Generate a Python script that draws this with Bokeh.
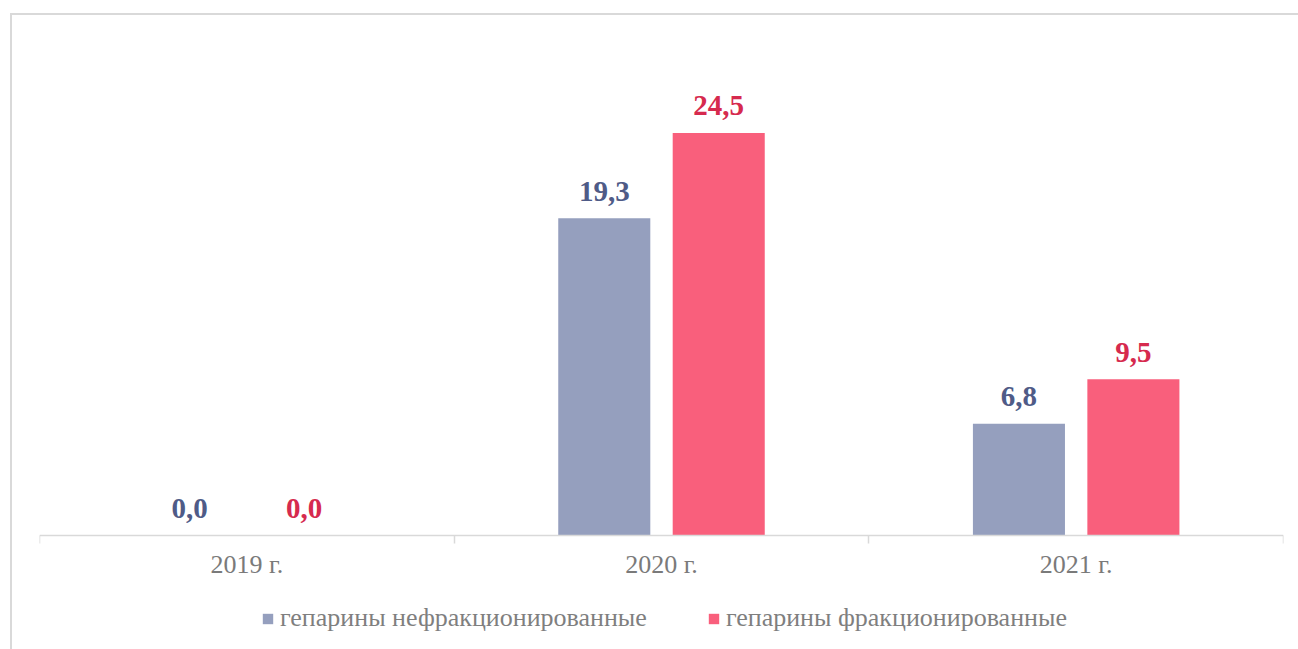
from bokeh.plotting import figure
from bokeh.models import FixedTicker, ColumnDataSource, Legend, LegendItem, LinearAxis
from bokeh.embed import file_html
from bokeh.resources import INLINE
from bokeh.core.properties import value

categories = ["2019 г.", "2020 г.", "2021 г."]
series_names = ["гепарины нефракционированные", "гепарины фракционированные"]
unfractionated = [0.0, 19.3, 6.8]
fractionated = [0.0, 24.5, 9.5]

bar_colors = ["#959fbe", "#f95f7c"]
label_colors = ["#4f5b87", "#d62a4e"]
offsets = [-0.138, 0.138]
bar_w = 0.222

p = figure(frame_width=1244, frame_height=607, x_range=(0, 3), y_range=(-6.94, 30),
           output_backend="svg", toolbar_location=None,
           x_axis_location=None, y_axis_location=None,
           min_border_left=27, min_border_right=15, min_border_top=27,
           min_border_bottom=0)
p.styles = {"margin-left": "10px", "margin-top": "13px",
            "border-left": "2px solid #d9d9d9", "border-top": "2px solid #d9d9d9"}
p.outline_line_color = None
p.grid.visible = False

centers = [i + 0.5 for i in range(len(categories))]
items = []
for k, vals in enumerate([unfractionated, fractionated]):
    xs = [c + offsets[k] for c in centers]
    src = ColumnDataSource(dict(x=xs, top=vals,
                                lab=[f"{v:.1f}".replace(".", ",") for v in vals]))
    r = p.vbar(x="x", top="top", bottom=0, width=bar_w, source=src,
               fill_color=bar_colors[k], line_color=None)
    p.text(x="x", y="top", text="lab", source=src, text_align="center",
           text_baseline="alphabetic", y_offset=-27,
           text_font=value("Liberation Serif"), text_font_style="bold",
           text_font_size="29px", text_color=label_colors[k])
    items.append(LegendItem(label=series_names[k], renderers=[r]))

ax = LinearAxis(fixed_location=0)
ax.ticker = FixedTicker(ticks=centers, minor_ticks=[0, 1, 2, 3])
ax.major_label_overrides = {c: lab for c, lab in zip(centers, categories)}
ax.major_tick_line_color = None
ax.minor_tick_line_color = "#d9d9d9"
ax.minor_tick_line_width = 1.5
ax.minor_tick_out = 8
ax.minor_tick_in = 0
ax.axis_line_color = "#d9d9d9"
ax.axis_line_width = 1.5
ax.major_label_text_font = "Liberation Serif"
ax.major_label_text_font_size = "26px"
ax.major_label_text_color = "#7a7a7a"
ax.major_label_standoff = 7
p.add_layout(ax, "below")

legend = Legend(items=items, orientation="horizontal", location=(222, 16),
                label_text_font="Liberation Serif", label_text_font_size="26px",
                label_text_color="#7f7f7f", glyph_width=13, glyph_height=13,
                spacing=60, label_standoff=6, border_line_color=None,
                background_fill_alpha=0, margin=0, padding=0)
p.add_layout(legend, "center")

open("out.html", "w").write(file_html(p, INLINE))
